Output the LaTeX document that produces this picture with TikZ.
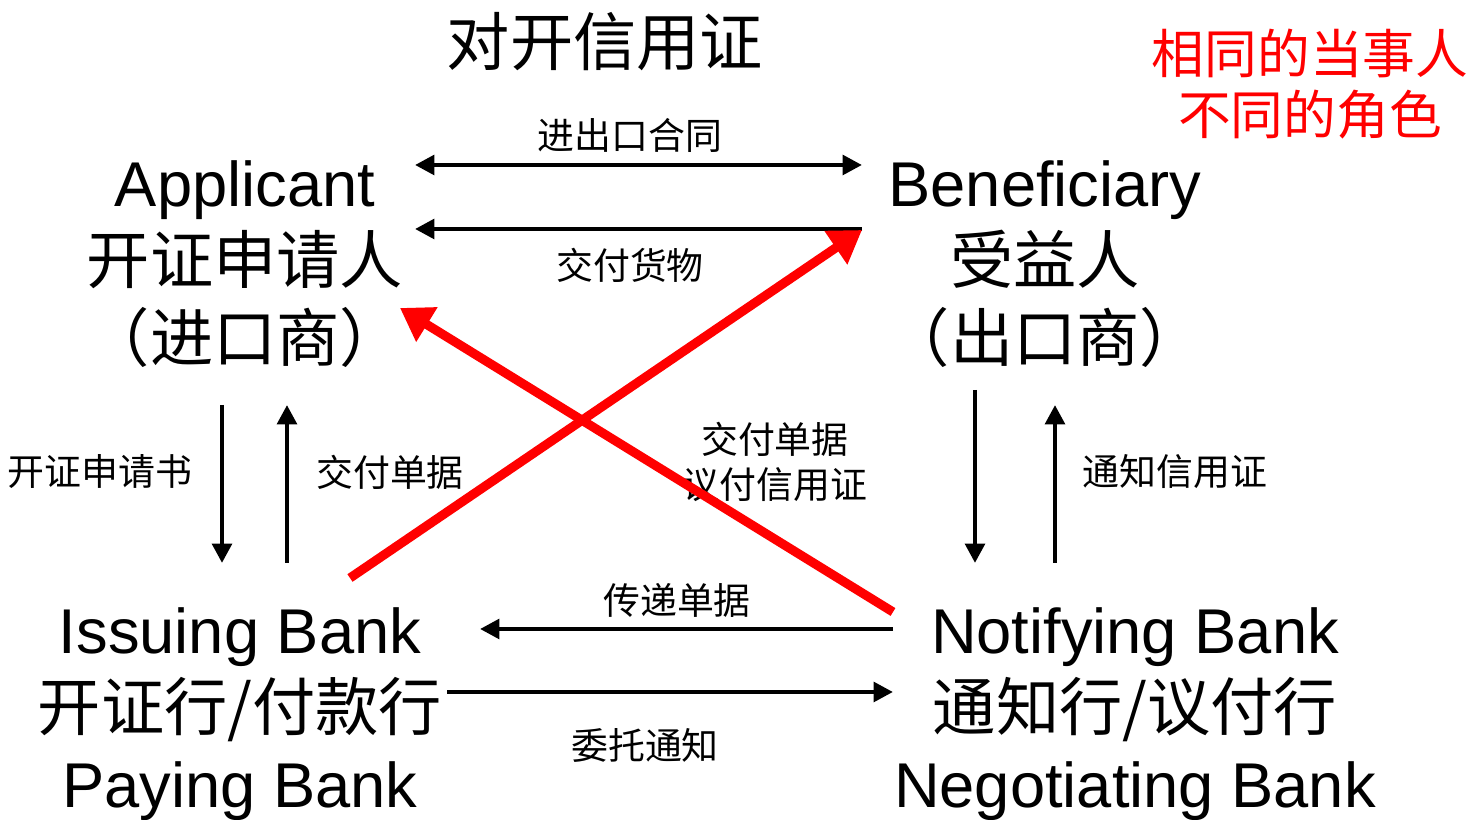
\documentclass[tikz,border=0pt]{standalone}
\usepackage{fontspec}
\setmainfont{Liberation Sans}
\newfontfamily\cjk{Noto Sans CJK SC}
\usetikzlibrary{arrows.meta}

\begin{document}
\begin{tikzpicture}[
    >={Triangle[length=5.5pt, width=5.5pt]},
    party/.style={align=center, font=\fontsize{18}{22}\selectfont},
    note/.style={align=center, font=\cjk\fontsize{10.5}{12.8}\selectfont},
    flow/.style={line width=1.3pt},
    cross/.style={red, line width=2.6pt, -{Triangle[length=9pt, width=11pt]}}
  ]
            \useasboundingbox (0,0) rectangle (14.71,8.2);
            \node [party, font=\cjk\fontsize{18}{22}\selectfont] (title) at (6.05, 7.78) {对开信用证};
            \node [red, align=center, font=\cjk\fontsize{15}{17.4}\selectfont] (remark) at (13.1, 7.36) {相同的当事人\\不同的角色};
            \node [party] (App) at (2.45, 5.56) {Applicant\\{\cjk 开证申请人}\\{\cjk （进口商）}};
            \node [party] (Ben) at (10.45, 5.56) {Beneficiary\\{\cjk 受益人}\\{\cjk （出口商）}};
            \node [party] (Iss) at (2.40, 1.06) {Issuing Bank\\{\cjk 开证行/付款行}\\Paying Bank};
            \node [party] (Neg) at (11.35, 1.06) {Notifying Bank\\{\cjk 通知行/议付行}\\Negotiating Bank};
            \coordinate (A1) at (4.15, 6.55);
            \coordinate (B1) at (8.62, 6.55);
            \coordinate (A2) at (4.15, 5.91);
            \coordinate (B2) at (8.62, 5.91);
            \coordinate (A3) at (2.22, 4.15);
            \coordinate (I3) at (2.22, 2.57);
            \coordinate (A4) at (2.87, 4.15);
            \coordinate (I4) at (2.87, 2.57);
            \coordinate (B5) at (9.75, 4.30);
            \coordinate (N5) at (9.75, 2.57);
            \coordinate (B6) at (10.55, 4.15);
            \coordinate (N6) at (10.55, 2.57);
            \coordinate (I7) at (4.80, 1.91);
            \coordinate (N7) at (8.93, 1.91);
            \coordinate (I8) at (4.47, 1.28);
            \coordinate (N8) at (8.93, 1.28);
            \coordinate (I9) at (3.50, 2.42);
            \coordinate (B9) at (8.62, 5.90);
            \coordinate (N10) at (8.93, 2.08);
            \coordinate (A10) at (4.00, 5.12);
            \draw [flow, <->] (A1) -- (B1);
            \draw [flow, ->] (B2) -- (A2);
            \draw [flow, ->] (A3) -- (I3);
            \draw [flow, ->] (I4) -- (A4);
            \draw [flow, ->] (B5) -- (N5);
            \draw [flow, ->] (N6) -- (B6);
            \draw [flow, ->] (N7) -- (I7);
            \draw [flow, ->] (I8) -- (N8);
            \node [note] (contract) at (6.30, 6.85) {进出口合同};
            \node [note] (goods) at (6.30, 5.55) {交付货物};
            \node [note] (apply) at (1.00, 3.48) {开证申请书};
            \node [note] (docsA) at (3.90, 3.48) {交付单据};
            \node [note] (advise) at (11.75, 3.48) {通知信用证};
            \node [note] (pass) at (6.77, 2.20) {传递单据};
            \node [note] (entrust) at (6.45, 0.75) {委托通知};
            \node [note] (docsB) at (7.75, 3.58) {交付单据\\议付信用证};
            \draw [cross] (I9) -- (B9);
            \draw [cross] (N10) -- (A10);
        \end{tikzpicture}
\end{document}
